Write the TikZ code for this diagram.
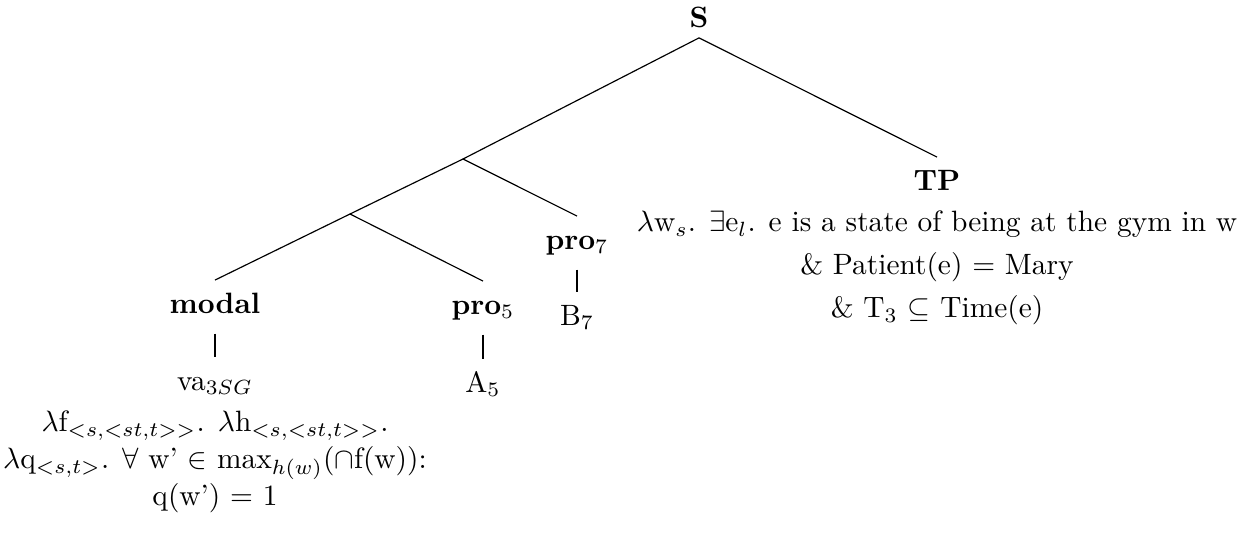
\documentclass[tikz,border=0pt]{standalone}
\usetikzlibrary{positioning}
\tikzset{
  cat/.style={
    font=\bfseries,
    text height=7.5pt,
    text depth=3.3pt,
    inner sep=3.5pt,
    anchor=base
  },
  lex/.style={
    text height=7.5pt,
    text depth=3.3pt,
    inner sep=3.5pt,
    anchor=base
  },
  sem/.style={
    align=center,
    font={\fontsize{10}{14.6}\selectfont},
    inner sep=0pt
  }
}
\begin{document}
\begin{tikzpicture}[x=0.34pt, y=-0.34pt]
        \useasboundingbox (0,0) rectangle (1254,535);
        \node[cat, text depth=0pt] (S) at (699,27) {S};
        \coordinate (n1) at (463,159);
        \coordinate (n2) at (350,214);
        \node[cat] (TP) at (937,190) {TP};
        \node[sem] (TPsem) at (937,268) {$\lambda$w$_s$. $\exists$e$_l$. e is a state of being at the gym in w\\
            \& Patient(e) = Mary\\
            \& T$_3$ $\subseteq$ Time(e)};
        \node[cat] (pro7) at (577,249) {pro$_7$};
        \node[lex] (B7) at (577,325) {B$_7$};
        \node[cat] (modal) at (215,313) {modal};
        \node[lex] (va) at (215,390) {va$_{3SG}$};
        \node[sem, font={\fontsize{10}{12.5}\selectfont}] (modsem) at (215,462) {$\lambda$f$_{<s,<st,t>>}$. $\lambda$h$_{<s,<st,t>>}$.\\
            $\lambda$q$_{<s,t>}$. $\forall$ w' $\in$ max$_{h(w)}$($\cap$f(w)):\\
            q(w') = 1};
        \node[cat] (pro5) at (483,314) {pro$_5$};
        \node[lex] (A5) at (483,392) {A$_5$};
        % branches
        \draw (S.south) -- (n1);
        \draw (S.south) -- (TP.north);
        \draw (n1) -- (n2);
        \draw (n1) -- (pro7.north);
        \draw (n2) -- (modal.north);
        \draw (n2) -- (pro5.north);
        % terminals
        \draw (pro7.south) -- (B7.north);
        \draw (modal.south) -- (va.north);
        \draw (pro5.south) -- (A5.north);
\end{tikzpicture}
\end{document}
